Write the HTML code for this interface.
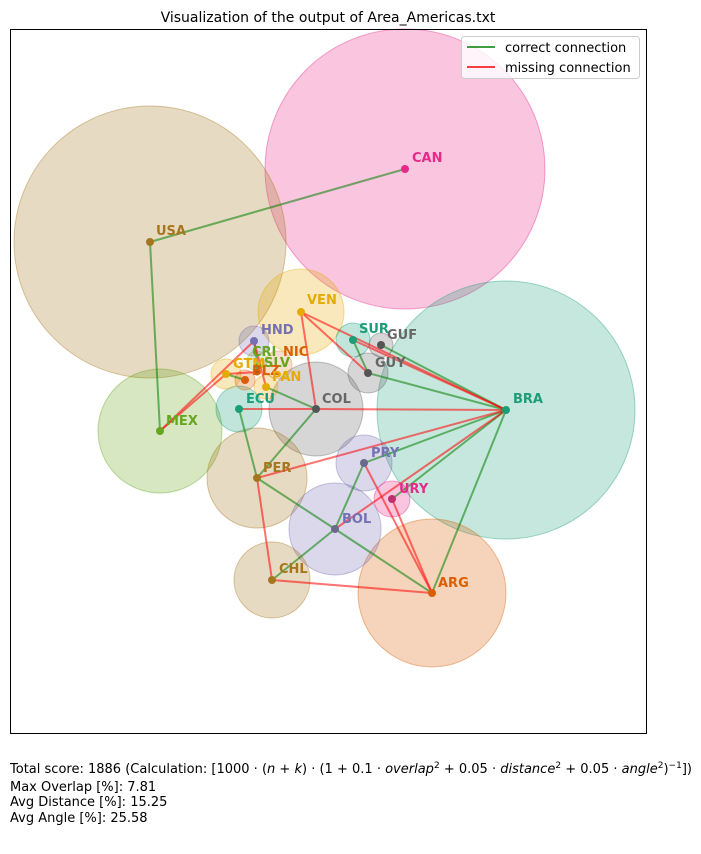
<!DOCTYPE html><html><head><style>body{margin:0;background:#fff}</style></head><body>
<svg width="701" height="849" xmlns="http://www.w3.org/2000/svg" font-family="DejaVu Sans, Liberation Sans, sans-serif">
<rect width="701" height="849" fill="#fff"/>
<text x="328" y="22" font-size="14" text-anchor="middle">Visualization of the output of Area_Americas.txt</text>
<g>
<circle cx="405" cy="169" r="140" fill="#e7298a" fill-opacity="0.27" stroke="#e7298a" stroke-opacity="0.4"/>
<circle cx="150" cy="242" r="136" fill="#a6761d" fill-opacity="0.27" stroke="#a6761d" stroke-opacity="0.4"/>
<circle cx="506" cy="410" r="129" fill="#1b9e77" fill-opacity="0.25" stroke="#1b9e77" stroke-opacity="0.4"/>
<circle cx="432" cy="593" r="74" fill="#d95f02" fill-opacity="0.27" stroke="#d95f02" stroke-opacity="0.4"/>
<circle cx="160" cy="431" r="62" fill="#66a61e" fill-opacity="0.27" stroke="#66a61e" stroke-opacity="0.4"/>
<circle cx="301" cy="312" r="43" fill="#e6ab02" fill-opacity="0.27" stroke="#e6ab02" stroke-opacity="0.4"/>
<circle cx="316" cy="409" r="47" fill="#666" fill-opacity="0.27" stroke="#666" stroke-opacity="0.4"/>
<circle cx="257" cy="478" r="50" fill="#a6761d" fill-opacity="0.27" stroke="#a6761d" stroke-opacity="0.4"/>
<circle cx="335" cy="529" r="46" fill="#7570b3" fill-opacity="0.27" stroke="#7570b3" stroke-opacity="0.4"/>
<circle cx="272" cy="580" r="38" fill="#a6761d" fill-opacity="0.27" stroke="#a6761d" stroke-opacity="0.4"/>
<circle cx="364" cy="463" r="28" fill="#7570b3" fill-opacity="0.27" stroke="#7570b3" stroke-opacity="0.4"/>
<circle cx="392" cy="499" r="18" fill="#e7298a" fill-opacity="0.27" stroke="#e7298a" stroke-opacity="0.4"/>
<circle cx="353" cy="340" r="17" fill="#1b9e77" fill-opacity="0.27" stroke="#1b9e77" stroke-opacity="0.4"/>
<circle cx="381" cy="345" r="12" fill="#666" fill-opacity="0.27" stroke="#666" stroke-opacity="0.4"/>
<circle cx="368" cy="373" r="20" fill="#666" fill-opacity="0.27" stroke="#666" stroke-opacity="0.4"/>
<circle cx="239" cy="409" r="23" fill="#1b9e77" fill-opacity="0.27" stroke="#1b9e77" stroke-opacity="0.4"/>
<circle cx="254" cy="341" r="15" fill="#7570b3" fill-opacity="0.27" stroke="#7570b3" stroke-opacity="0.4"/>
<circle cx="226" cy="374" r="15" fill="#e6ab02" fill-opacity="0.27" stroke="#e6ab02" stroke-opacity="0.4"/>
<circle cx="278" cy="365" r="14" fill="#d95f02" fill-opacity="0.2" stroke="#d95f02" stroke-opacity="0.3"/>
<circle cx="257" cy="361" r="10" fill="#66a61e" fill-opacity="0.2" stroke="#66a61e" stroke-opacity="0.3"/>
<circle cx="245" cy="380" r="10" fill="#d95f02" fill-opacity="0.27" stroke="#d95f02" stroke-opacity="0.4"/>
<circle cx="266" cy="387" r="12" fill="#e6ab02" fill-opacity="0.27" stroke="#e6ab02" stroke-opacity="0.4"/>
</g>
<g stroke-width="2" stroke-opacity="0.55" fill="none">
<g stroke="#008000">
<line x1="150" y1="242" x2="405" y2="169"/><line x1="150" y1="242" x2="160" y2="431"/>
<line x1="353" y1="340" x2="368" y2="373"/><line x1="368" y1="373" x2="506" y2="410"/>
<line x1="381" y1="345" x2="506" y2="410"/>
<line x1="506" y1="410" x2="432" y2="593"/><line x1="506" y1="410" x2="364" y2="463"/>
<line x1="506" y1="410" x2="392" y2="499"/>
<line x1="364" y1="463" x2="335" y2="529"/><line x1="335" y1="529" x2="272" y2="580"/>
<line x1="335" y1="529" x2="257" y2="478"/><line x1="335" y1="529" x2="432" y2="593"/>
<line x1="257" y1="478" x2="239" y2="409"/>
<line x1="257" y1="478" x2="316" y2="409"/><line x1="266" y1="387" x2="316" y2="409"/>
<line x1="254" y1="341" x2="258" y2="368"/><line x1="226" y1="374" x2="245" y2="380"/>
</g>
<g stroke="#ff0000">
<line x1="160" y1="431" x2="226" y2="374"/><line x1="160" y1="431" x2="254" y2="341"/>
<line x1="226" y1="374" x2="258" y2="372"/><line x1="254" y1="341" x2="266" y2="387"/>
<line x1="301" y1="312" x2="316" y2="409"/><line x1="301" y1="312" x2="368" y2="373"/>
<line x1="301" y1="312" x2="506" y2="410"/><line x1="353" y1="340" x2="506" y2="410"/>
<line x1="239" y1="409" x2="316" y2="409"/><line x1="316" y1="409" x2="506" y2="410"/>
<line x1="257" y1="478" x2="506" y2="410"/><line x1="335" y1="529" x2="506" y2="410"/>
<line x1="364" y1="463" x2="432" y2="593"/><line x1="392" y1="499" x2="432" y2="593"/>
<line x1="272" y1="580" x2="432" y2="593"/><line x1="257" y1="478" x2="272" y2="580"/>
</g>
</g>
<g>
<circle cx="405" cy="169" r="4" fill="#e7298a"/><circle cx="150" cy="242" r="4" fill="#a6761d"/>
<circle cx="506" cy="410" r="4" fill="#1b9e77"/><circle cx="432" cy="593" r="4" fill="#d95f02"/>
<circle cx="160" cy="431" r="4" fill="#66a61e"/><circle cx="301" cy="312" r="4" fill="#e6ab02"/>
<circle cx="316" cy="409" r="4" fill="#555"/><circle cx="257" cy="478" r="4" fill="#a6761d"/>
<circle cx="335" cy="529" r="4" fill="#6a6a8a"/><circle cx="272" cy="580" r="4" fill="#a6761d"/>
<circle cx="364" cy="463" r="4" fill="#6a6a8a"/><circle cx="392" cy="499" r="4" fill="#c03070"/>
<circle cx="353" cy="340" r="4" fill="#1b9e77"/><circle cx="381" cy="345" r="4" fill="#555"/>
<circle cx="368" cy="373" r="4" fill="#555"/><circle cx="239" cy="409" r="4" fill="#1b9e77"/>
<circle cx="254" cy="341" r="4" fill="#7570b3"/><circle cx="226" cy="374" r="4" fill="#e6ab02"/>
<circle cx="245" cy="380" r="4" fill="#d95f02"/><circle cx="266" cy="387" r="4" fill="#e6ab02"/>
<circle cx="257" cy="372" r="3.5" fill="#b05a10"/><circle cx="258" cy="366" r="3" fill="#66a61e"/>
</g>
<g font-size="13" font-weight="bold">
<text x="412" y="162" fill="#e7298a">CAN</text><text x="156" y="235" fill="#a6761d">USA</text>
<text x="513" y="403" fill="#1b9e77">BRA</text><text x="438" y="587" fill="#d95f02">ARG</text>
<text x="166" y="425" fill="#66a61e">MEX</text><text x="307" y="304" fill="#e6ab02">VEN</text>
<text x="322" y="403" fill="#666">COL</text><text x="263" y="472" fill="#a6761d">PER</text>
<text x="342" y="523" fill="#7570b3">BOL</text><text x="279" y="573" fill="#a6761d">CHL</text>
<text x="371" y="457" fill="#7570b3">PRY</text><text x="399" y="493" fill="#e7298a">URY</text>
<text x="359" y="333" fill="#1b9e77">SUR</text><text x="387" y="339" fill="#666">GUF</text>
<text x="375" y="367" fill="#666">GUY</text><text x="246" y="403" fill="#1b9e77">ECU</text>
<text x="261" y="334" fill="#7570b3">HND</text><text x="233" y="368" fill="#e6ab02">GTM</text>
<text x="283" y="356" fill="#d95f02">NIC</text><text x="252" y="356" fill="#66a61e">CRI</text>
<text x="264" y="367" fill="#66a61e">SLV</text><text x="252" y="375" fill="#d95f02">BLZ</text>
<text x="272" y="381" fill="#e6ab02">PAN</text>
</g>
<rect x="10.5" y="29.5" width="636" height="704" fill="none" stroke="#000" stroke-width="1"/>
<rect x="461.5" y="36.5" width="178" height="42" rx="3" fill="#fff" fill-opacity="0.8" stroke="#ccc"/>
<line x1="467" y1="47" x2="495" y2="47" stroke="#008000" stroke-width="1.5"/>
<line x1="467" y1="67" x2="495" y2="67" stroke="#ff0000" stroke-width="1.5"/>
<text x="505" y="52" font-size="13">correct connection</text>
<text x="505" y="72" font-size="13">missing connection</text>
<g font-size="13">
<text x="10" y="773" textLength="682" lengthAdjust="spacingAndGlyphs">Total score: 1886  (Calculation: [1000 · (<tspan font-style="italic">n</tspan> + <tspan font-style="italic">k</tspan>) · (1 + 0.1 · <tspan font-style="italic">overlap</tspan><tspan font-size="9" dy="-5">2</tspan><tspan dy="5"> + 0.05 · </tspan><tspan font-style="italic">distance</tspan><tspan font-size="9" dy="-5">2</tspan><tspan dy="5"> + 0.05 · </tspan><tspan font-style="italic">angle</tspan><tspan font-size="9" dy="-5">2</tspan><tspan dy="5">)</tspan><tspan font-size="9" dy="-5">−1</tspan><tspan dy="5">])</tspan></text>
<text x="10" y="791">Max Overlap [%]: 7.81</text>
<text x="10" y="806">Avg Distance [%]: 15.25</text>
<text x="10" y="822">Avg Angle [%]: 25.58</text>
</g>
</svg>
</body></html>
